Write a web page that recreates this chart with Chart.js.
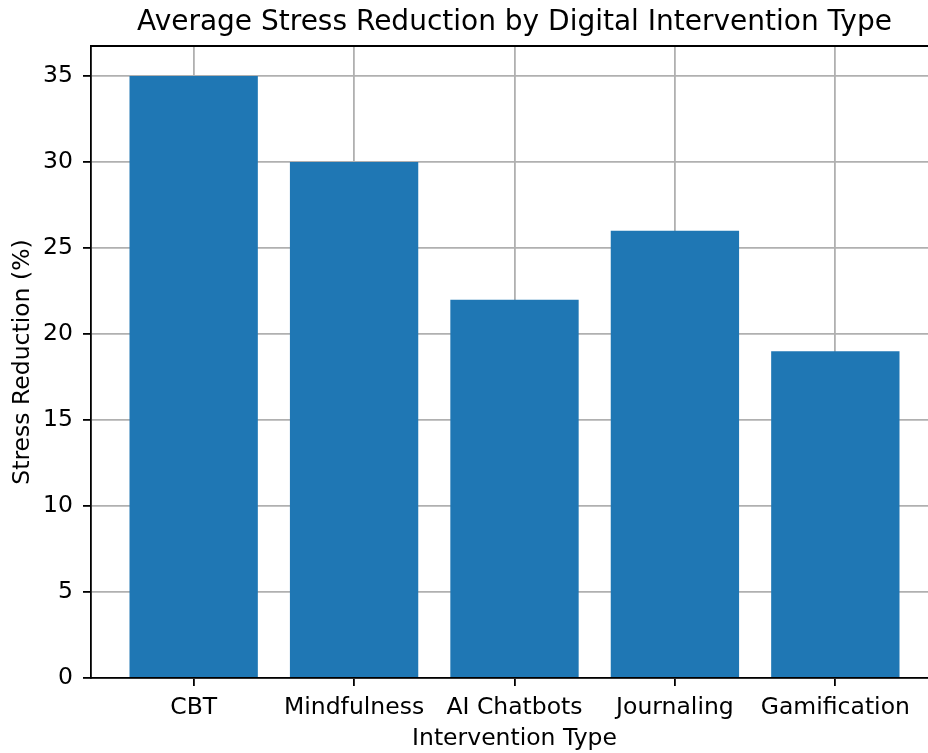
<!DOCTYPE html>
<html>
<head>
<meta charset="utf-8">
<script src="https://cdn.jsdelivr.net/npm/chart.js@4/dist/chart.umd.min.js"></script>
<style>
  html, body { margin: 0; padding: 0; background: #fff; }
  #wrap { width: 928px; height: 753px; overflow: hidden; position: relative; }
  canvas { display: block; }
</style>
</head>
<body>
<div id="wrap"><canvas id="myChart" width="960" height="753"></canvas></div>
<script>
var categories = ['CBT', 'Mindfulness', 'AI Chatbots', 'Journaling', 'Gamification'];
var stressReduction = [35, 30, 22, 26, 19];
var yTicks = [0, 5, 10, 15, 20, 25, 30, 35];
var chartTitle = 'Average Stress Reduction by Digital Intervention Type';
var xTitle = 'Intervention Type';
var yTitle = 'Stress Reduction (%)';

var FONT = "'DejaVu Sans', sans-serif";
var LABEL_SIZE = 23.5;

// matplotlib-like frame: top spine + title centred over the plot area
var framePlugin = {
  id: 'frame',
  afterDraw: function(chart) {
    var c = chart.ctx, a = chart.chartArea;
    c.save();
    c.strokeStyle = '#000';
    c.lineWidth = 1.8;
    c.beginPath();
    c.moveTo(a.left, a.top);
    c.lineTo(a.right, a.top);
    c.stroke();
    c.fillStyle = '#000';
    c.font = '28px ' + FONT;
    c.textAlign = 'center';
    c.textBaseline = 'alphabetic';
    c.fillText(chartTitle, (a.left + a.right) / 2, 30);
    c.restore();
  }
};

var ctx = document.getElementById('myChart').getContext('2d');
var myChart = new Chart(ctx, {
  type: 'bar',
  data: {
    datasets: [{
      label: yTitle,
      data: stressReduction.map(function(v, i) { return {x: i, y: v}; }),
      backgroundColor: '#1f77b4',
      borderWidth: 0,
      barPercentage: 0.8,
      categoryPercentage: 1.0
    }]
  },
  options: {
    responsive: false,
    devicePixelRatio: 1,
    animation: false,
    layout: { padding: { left: 0, top: 46, right: 22, bottom: 0 } },
    plugins: { legend: { display: false }, tooltip: { enabled: false }, title: { display: false } },
    scales: {
      x: {
        type: 'linear',
        min: -0.64,
        max: 4.64,
        offset: false,
        z: 1,
        grid: { offset: false, color: '#b0b0b0', lineWidth: 1.8, tickLength: 8, tickColor: '#000', tickWidth: 1.8 },
        border: { color: '#000', width: 1.8 },
        ticks: {
          stepSize: 1,
          includeBounds: false,
          autoSkip: false,
          maxRotation: 0,
          padding: 8,
          color: '#000',
          font: { family: FONT, size: LABEL_SIZE },
          callback: function(v) { return categories[v]; }
        },
        title: { display: true, text: xTitle, color: '#000', font: { family: FONT, size: LABEL_SIZE }, padding: 0 },
        afterFit: function(s) { s.height = 75; }
      },
      y: {
        min: 0,
        max: 36.75,
        z: 1,
        grid: { color: '#b0b0b0', lineWidth: 1.8, tickLength: 8, tickColor: '#000', tickWidth: 1.8 },
        border: { color: '#000', width: 1.8 },
        afterBuildTicks: function(s) { s.ticks = yTicks.map(function(v) { return {value: v}; }); },
        ticks: {
          padding: 10,
          color: '#000',
          font: { family: FONT, size: LABEL_SIZE }
        },
        title: { display: true, text: yTitle, color: '#000', font: { family: FONT, size: LABEL_SIZE }, padding: { top: 9, bottom: 0 } },
        afterFit: function(s) { s.width = 91; }
      }
    }
  },
  plugins: [framePlugin]
});
</script>
</body>
</html>
